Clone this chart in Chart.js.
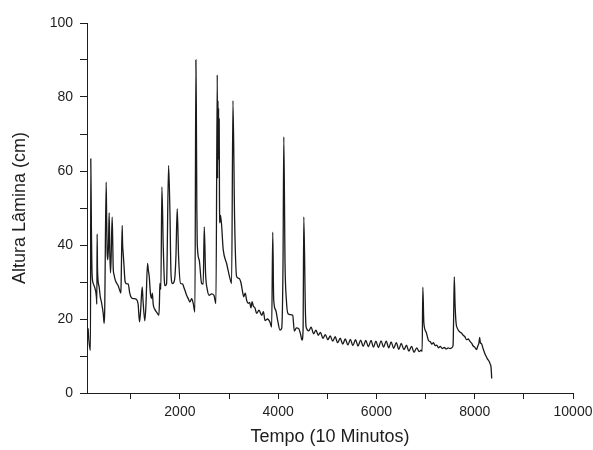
<!DOCTYPE html>
<html lang="pt">
<head>
    <meta charset="UTF-8">
    <title>Altura Lâmina</title>
    <script src="https://cdn.jsdelivr.net/npm/chart.js"></script>
    <style>
        body, html {
            margin: 0;
            padding: 0;
            background: #fff;
            overflow: hidden;
        }
        canvas {
            display: block;
        }
    </style>
</head>
<body>
    <canvas id="alturaChart" width="593" height="450"></canvas>

    <script>
        // Tempo (10 Minutos)
        const tempo = [
            132, 150, 181, 187, 200, 214, 240, 282, 303, 310, 316, 325, 357, 380, 405, 440, 459, 470,
            500, 510, 520, 535, 548, 561, 574, 588, 600, 622, 635, 643, 660, 676, 700, 744, 770, 799,
            805, 826, 835, 845, 860, 887, 920, 948, 980, 1016, 1060, 1118, 1150, 1179, 1200, 1233,
            1250, 1287, 1310, 1342, 1360, 1376, 1400, 1423, 1440, 1457, 1491, 1530, 1573, 1585, 1593,
            1613, 1634, 1661, 1688, 1700, 1729, 1770, 1797, 1820, 1851, 1880, 1899, 1920, 1946, 1974,
            2014, 2055, 2082, 2110, 2137, 2170, 2204, 2240, 2272, 2306, 2326, 2335, 2345, 2353, 2394,
            2442, 2475, 2496, 2523, 2557, 2597, 2645, 2693, 2734, 2761, 2768, 2775, 2782, 2788, 2794,
            2800, 2806, 2815, 2829, 2883, 2951, 3019, 3053, 3080, 3114, 3155, 3200, 3240, 3270, 3300,
            3330, 3360, 3392, 3420, 3447, 3470, 3494, 3528, 3562, 3610, 3665, 3700, 3732, 3786, 3834,
            3868, 3890, 3909, 3950, 3990, 4037, 4072, 4099, 4115, 4140, 4167, 4201, 4248, 4296, 4330,
            4371, 4419, 4452, 4486, 4507, 4522, 4554, 4569, 4623, 4671, 4720, 4770, 4815, 4860, 4910,
            4960, 5010, 5060, 5110, 5160, 5210, 5262, 5315, 5365, 5420, 5470, 5520, 5575, 5625, 5680,
            5730, 5785, 5835, 5890, 5940, 5990, 6040, 6095, 6145, 6200, 6250, 6300, 6350, 6405, 6455,
            6505, 6560, 6610, 6660, 6715, 6765, 6820, 6870, 6910, 6930, 6944, 6965, 7011, 7059, 7100,
            7127, 7160, 7195, 7228, 7263, 7300, 7340, 7380, 7420, 7460, 7500, 7540, 7560, 7570, 7584,
            7600, 7620, 7650, 7697, 7730, 7765, 7800, 7833, 7870, 7901, 7940, 7969, 8000, 8037, 8060,
            8085, 8100, 8115, 8140, 8170, 8207, 8230, 8255, 8280, 8296, 8315, 8330, 8340, 8345
        ];

        // Altura Lâmina (cm)
        const altura = [
            17.5, 14, 11.5, 63.3, 44, 32, 29.5, 27.8, 25.7, 24, 43, 33, 28.7, 26, 24.5, 21.5, 18.8, 22,
            57, 47, 38, 36, 40.5, 48.7, 38, 32.5, 36, 47.5, 40, 34, 32, 31, 30, 29, 28, 27,
            30, 45.3, 40, 38, 35, 30, 29.5, 29.5, 27, 25.7, 25.5, 25.3, 24, 19.2, 22, 28.7,
            25, 19.5, 24, 35, 33, 31.6, 27, 25.6, 27, 24, 22.6, 21.8, 21, 25, 29.6,
            28, 55.7, 40, 29.6, 29, 29.5, 61.5, 49.4, 32, 29.6, 30, 31.4, 37, 49.8, 36.8,
            29.6, 29.5, 28.5, 27.5, 26.4, 25.5, 24.6, 25.5, 24.2, 21.9, 90, 77, 50, 40.4, 35.9,
            29.6, 29.4, 44.9, 32.3, 28, 26.4, 26.8, 26.4, 24.2, 86, 58, 79, 65, 77, 63,
            74, 52, 46, 48, 38.6, 35, 31, 29.6, 79, 46.8, 31.4, 31, 30, 27.8, 26,
            27, 25, 24.2, 24.5, 23, 24.7, 23.5, 23, 21.5, 22.4, 21, 22, 19.6, 20, 19.1,
            17.8, 43.5, 25.3, 22.4, 19.6, 17, 17.5, 35, 69.2, 35, 25.2, 21.4, 21.2, 21, 16.7,
            17.6, 17.4, 16.1, 14.3, 17, 47.6, 22.4, 17.8, 16.8, 17.8, 16.0, 17.0, 15.6, 16.4, 14.8,
            15.8, 14.4, 15.4, 14.0, 15.2, 13.6, 14.8, 13.2, 14.6, 13.0, 14.5, 12.8, 14.4, 12.7, 14.3,
            12.6, 14.2, 12.5, 14.2, 12.4, 14.0, 12.3, 14.1, 12.4, 14.0, 12.2, 13.8, 12.1, 13.6, 11.8,
            13.4, 11.7, 12.9, 11.3, 12.6, 11.0, 12.2, 11.2, 11.6, 11.2, 28.6, 19, 16.5, 14.2, 13.8,
            13.2, 13.6, 12.8, 12.9, 12.2, 12.6, 12.0, 12.3, 11.9, 12.2, 12.0, 12.3, 13, 19.5, 31.4,
            24, 19, 17.4, 16.5, 16.2, 15.6, 15.2, 14.4, 14.6, 14.0, 13.4, 12.7, 12.4, 11.7, 12.6,
            13.5, 15.0, 13.6, 13.3, 12.0, 10.6, 10.0, 9.3, 8.8, 8.5, 7.8, 7.2, 5.5, 3.9
        ];

        const xTicks = [1000, 2000, 3000, 4000, 5000, 6000, 7000, 8000, 9000, 10000];
        const xTickLabels = [2000, 4000, 6000, 8000, 10000];
        const yTickLabels = [0, 20, 40, 60, 80, 100];

        const ink = '#1e1e1e';
        const tickFont = { family: 'Liberation Sans', size: 14 };
        const titleFont = { family: 'Liberation Sans', size: 18 };

        const points = tempo.map((t, i) => ({ x: t, y: altura[i] }));

        const ctx = document.getElementById('alturaChart').getContext('2d');

        new Chart(ctx, {
            type: 'line',
            data: {
                datasets: [{
                    data: points,
                    borderColor: '#1a1a1a',
                    borderWidth: 1.3,
                    pointRadius: 0,
                    cubicInterpolationMode: 'monotone',
                    fill: false
                }]
            },
            options: {
                responsive: false,
                animation: false,
                layout: {
                    padding: { top: 23, right: 20, bottom: 0, left: 0 }
                },
                plugins: {
                    legend: { display: false },
                    tooltip: { enabled: false }
                },
                scales: {
                    x: {
                        type: 'linear',
                        min: 110,
                        max: 10000,
                        afterFit: (scale) => {
                            scale.height = 57;
                            scale.paddingRight = 0;
                            scale.paddingLeft = 0;
                        },
                        afterBuildTicks: (scale) => {
                            scale.ticks = xTicks.map(v => ({ value: v }));
                        },
                        grid: {
                            drawOnChartArea: false,
                            drawTicks: true,
                            tickLength: 6,
                            color: ink
                        },
                        border: { display: true, color: ink, width: 1 },
                        ticks: {
                            autoSkip: false,
                            maxRotation: 0,
                            padding: 5,
                            color: ink,
                            font: tickFont,
                            callback: (v) => xTickLabels.includes(v) ? String(v) : ''
                        },
                        title: {
                            display: true,
                            text: 'Tempo (10 Minutos)',
                            color: ink,
                            font: titleFont,
                            padding: { top: 0, bottom: 2 }
                        }
                    },
                    y: {
                        min: 0,
                        max: 100,
                        afterFit: (scale) => { scale.width = 87; },
                        grid: {
                            drawOnChartArea: false,
                            drawTicks: true,
                            tickLength: 7,
                            color: ink
                        },
                        border: { display: true, color: ink, width: 1 },
                        ticks: {
                            stepSize: 10,
                            padding: 7,
                            color: ink,
                            font: tickFont,
                            callback: (v) => yTickLabels.includes(v) ? String(v) : ''
                        },
                        title: {
                            display: true,
                            text: 'Altura Lâmina (cm)',
                            color: ink,
                            font: titleFont,
                            padding: { top: 9, bottom: 0 }
                        }
                    }
                }
            }
        });
    </script>
</body>
</html>
